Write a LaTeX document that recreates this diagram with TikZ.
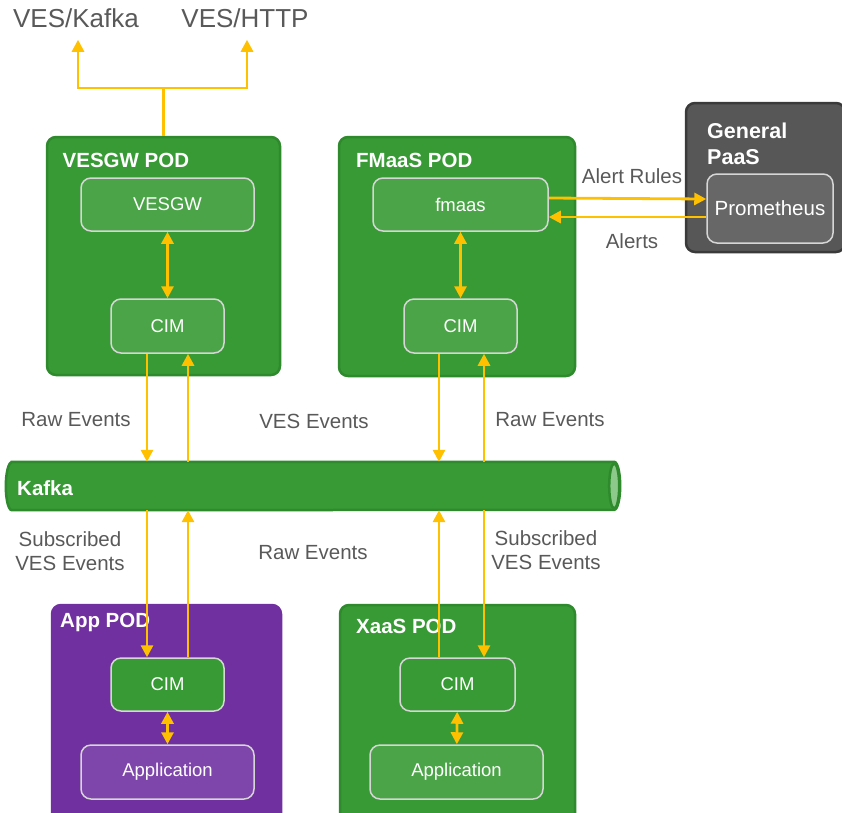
\documentclass[tikz,border=0pt]{standalone}
\usepackage{fontspec}
\setmainfont{Liberation Sans}
\usetikzlibrary{arrows.meta}

\definecolor{podgreen}{HTML}{379A34}
\definecolor{podedge}{HTML}{2E8A2C}
\definecolor{boxgreen}{HTML}{4CA449}
\definecolor{boxedge}{HTML}{D6D6D6}
\definecolor{podpurple}{HTML}{7030A0}
\definecolor{boxpurple}{HTML}{7E45AA}
\definecolor{paasgray}{HTML}{575757}
\definecolor{paasedge}{HTML}{3A3A3A}
\definecolor{promgray}{HTML}{676767}
\definecolor{kafkaend}{HTML}{8CC98A}
\definecolor{flowyellow}{HTML}{FFC000}
\definecolor{labelgray}{HTML}{595959}

\tikzset{
  pod/.style={draw=podedge, fill=podgreen, line width=2.5pt, rounded corners=9pt, inner sep=0pt},
  box/.style={draw=boxedge, fill=boxgreen, line width=1.5pt, rounded corners=10pt, inner sep=0pt,
    text=white, font=\fontsize{18.5}{22}\selectfont},
  podtitle/.style={anchor=base west, inner sep=0pt, text=white, font=\bfseries\fontsize{20.5}{25}\selectfont},
  lbl/.style={inner sep=0pt, text=labelgray, font=\fontsize{20.5}{24}\selectfont, align=center},
  flow/.style={draw=flowyellow, line width=2.8pt},
  onearrow/.style={-{Triangle[length=12pt,width=12pt]}},
  twoarrow/.style={{Triangle[length=12pt,width=12pt]}-{Triangle[length=12pt,width=12pt]}}
}

\begin{document}
\begin{tikzpicture}[x=1pt,y=-1pt]
\useasboundingbox (0,0) rectangle (842,812);

% pods
\node[pod, minimum width=233pt, minimum height=238pt] (vesgwpod) at (163.5,256) {};
\node[pod, minimum width=236pt, minimum height=239pt] (fmaaspod) at (457,256.5) {};
\node[pod, fill=podpurple, draw=podpurple, minimum width=229pt, minimum height=225pt] (apppod) at (166.5,717.5) {};
\node[pod, minimum width=235pt, minimum height=225pt] (xaaspod) at (457.5,717.5) {};
\node[pod, fill=paasgray, draw=paasedge, minimum width=159pt, minimum height=149pt] (paaspod) at (765.5,177.5) {};

\node[podtitle] (vesgwtitle) at (62.5,167) {VESGW POD};
\node[podtitle] (fmaastitle) at (356,167) {FMaaS POD};
\node[podtitle] (apptitle) at (60,627) {App POD};
\node[podtitle] (xaastitle) at (356,633) {XaaS POD};
\node[podtitle, anchor=north west, align=left, font=\bfseries\fontsize{21.5}{26}\selectfont] (paastitle) at (707,123) {General\\PaaS};

% inner boxes
\node[box, minimum width=173pt, minimum height=53pt] (vesgw) at (167.5,204.5) {VESGW};
\node[box, minimum width=113pt, minimum height=54pt] (vcim) at (167.5,326) {CIM};
\node[box, minimum width=175pt, minimum height=53pt] (fmaas) at (460.5,204.5) {fmaas};
\node[box, minimum width=113pt, minimum height=54pt] (fcim) at (460.5,326) {CIM};
\node[box, fill=podgreen, minimum width=113pt, minimum height=53pt] (acim) at (167.5,684.5) {CIM};
\node[box, fill=boxpurple, minimum width=173pt, minimum height=54pt] (app) at (167.5,772) {Application};
\node[box, fill=podgreen, minimum width=115pt, minimum height=53pt] (xcim) at (457.5,684.5) {CIM};
\node[box, minimum width=173pt, minimum height=54pt] (xapp) at (456.5,772) {Application};
\node[box, fill=promgray, font=\fontsize{20.5}{24}\selectfont, minimum width=126pt, minimum height=69pt] (prom) at (770,208.5) {Prometheus};

% kafka bus
\node[inner sep=0pt, minimum width=614pt, minimum height=48pt] (kafka) at (313,486) {};
\draw[draw=podedge, fill=podgreen, line width=2.5pt]
  ([xshift=6pt]kafka.north west) -- ([xshift=-6pt]kafka.north east)
  arc[start angle=90, end angle=-90, x radius=6pt, y radius=24pt]
  -- ([xshift=6pt]kafka.south west)
  arc[start angle=270, end angle=90, x radius=6pt, y radius=24pt] -- cycle;
\draw[draw=podedge, fill=kafkaend, line width=2.5pt] ([xshift=-6pt]kafka.east) ellipse[x radius=5pt, y radius=22.5pt];
\node[podtitle] (kafkatitle) at (17,495) {Kafka};

% labels
\node[lbl, font=\fontsize{26}{30}\selectfont] (veskafka) at (76,18) {VES/Kafka};
\node[lbl, font=\fontsize{26}{30}\selectfont] (veshttp) at (245,18) {VES/HTTP};
\node[lbl] (raw1) at (76,420) {Raw Events};
\node[lbl] (ves1) at (314,421) {VES Events};
\node[lbl] (raw2) at (550,420) {Raw Events};
\node[lbl] (sub1) at (70,551) {Subscribed\\VES Events};
\node[lbl] (raw3) at (313,553) {Raw Events};
\node[lbl] (sub2) at (546,550) {Subscribed\\VES Events};
\node[lbl] (rules) at (632,176) {Alert Rules};
\node[lbl] (alerts) at (632,241) {Alerts};

% connectors
\coordinate (split) at (163.5,88);
\coordinate (leftdown) at (147,0);
\coordinate (leftup) at (188,0);
\coordinate (rightdown) at (439,0);
\coordinate (rightup) at (484,0);
\draw[flow] (vesgwpod.north) -- (split);
\draw[flow, onearrow] (split) -| ([xshift=2pt,yshift=-12pt]veskafka.south);
\draw[flow, onearrow] (split) -| ([xshift=2pt,yshift=-12pt]veshttp.south);

\draw[flow, twoarrow] (vesgw) -- (vcim);
\draw[flow, twoarrow] (fmaas) -- (fcim);
\draw[flow, twoarrow] (acim) -- (app);
\draw[flow, twoarrow] (xcim) -- (xapp);

\draw[flow, onearrow] (vcim.south -| leftdown) -- (kafka.north -| leftdown);
\draw[flow, onearrow] (kafka.north -| leftup) -- (vcim.south -| leftup);
\draw[flow, onearrow] (fcim.south -| rightdown) -- (kafka.north -| rightdown);
\draw[flow, onearrow] (kafka.north -| rightup) -- (fcim.south -| rightup);
\draw[flow, onearrow] (kafka.south -| leftdown) -- (acim.north -| leftdown);
\draw[flow, onearrow] (acim.north -| leftup) -- (kafka.south -| leftup);
\draw[flow, onearrow] (xcim.north -| rightdown) -- (kafka.south -| rightdown);
\draw[flow, onearrow] (kafka.south -| rightup) -- (xcim.north -| rightup);

\draw[flow, onearrow] ([yshift=6.5pt]fmaas.east) -- ([yshift=9.5pt]prom.west);
\draw[flow, onearrow] ([yshift=-8.5pt]prom.west) -- ([yshift=-12.5pt]fmaas.east);
\end{tikzpicture}
\end{document}
